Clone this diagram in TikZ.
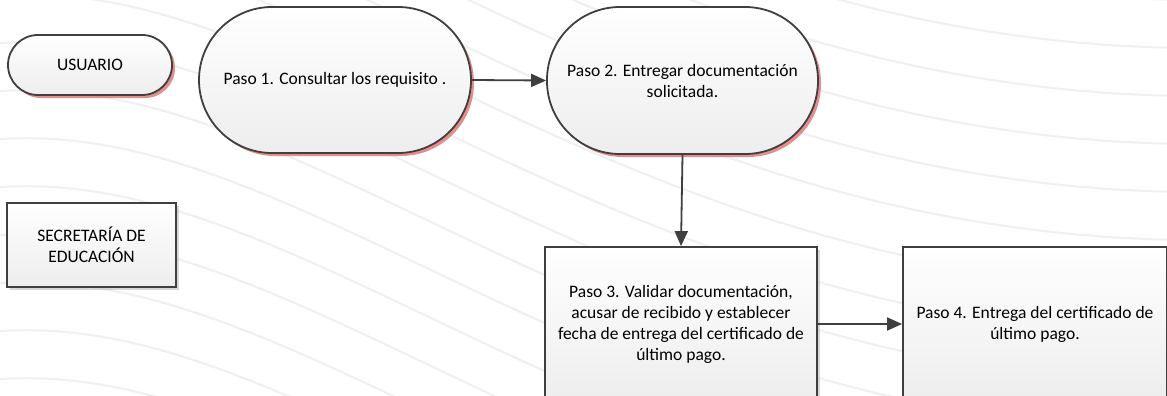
\documentclass[tikz,border=0pt]{standalone}
\usepackage{fontspec}
\setmainfont{Carlito}
\usetikzlibrary{arrows.meta,shadows}
\definecolor{edge}{HTML}{3F3F3F}
\definecolor{redsh}{HTML}{E07A7A}
\definecolor{swirlc}{HTML}{F0F0F0}
\tikzset{
  base/.style={draw=edge, line width=1.8pt, top color=white, bottom color=gray!14,
    align=center, inner sep=0pt, font=\fontsize{17.5}{21}\selectfont},
  pill/.style={base, rounded corners=#1,
    drop shadow={shadow xshift=3pt, shadow yshift=-3pt, fill=redsh, opacity=0.85}},
  box/.style={base,
    drop shadow={shadow xshift=3pt, shadow yshift=-3pt, fill=gray!60, opacity=0.5}},
  conn/.style={draw=edge, line width=1.8pt, -{Triangle[length=15pt,width=13pt]}},
  swirl/.style={draw=swirlc, line width=2pt}
}
\begin{document}
\begin{tikzpicture}[x=1pt,y=-1pt]
\useasboundingbox (0,0) rectangle (1167,396);
\clip (0,0) rectangle (1167,396);
\fill[white] (0,0) rectangle (1167,396);
% background swirls
\foreach \c in {-340,-292,...,430}{
  \draw[swirl] (-10,\c) .. controls (300,\c-30) and (600,\c+330) .. (1180,\c+340);
}
% nodes
\node[pill=30pt, minimum width=164pt, minimum height=60pt] (usuario) at (90,65) {USUARIO};
\node[box, minimum width=169pt, minimum height=84pt] (secre) at (91.5,245) {SECRETARÍA DE\\EDUCACIÓN};
\node[pill=73pt, minimum width=272pt, minimum height=146pt] (p1) at (335,80) {Paso 1. Consultar los requisito .};
\node[pill=73pt, minimum width=271pt, minimum height=147pt] (p2) at (682.5,80.5) {Paso 2. Entregar documentación\\solicitada.};
\node[box, minimum width=272pt, minimum height=154pt] (p3) at (681,324) {Paso 3. Validar documentación,\\acusar de recibido y establecer\\fecha de entrega del certificado de\\último pago.};
\node[box, minimum width=264pt, minimum height=154pt] (p4) at (1035,324) {Paso 4. Entrega del certificado de\\último pago.};
% connectors
\draw[conn] (p1.east) -- (p2.west);
\draw[conn] (p2.south) -- (p3.north);
\draw[conn] (p3.east) -- (p4.west);
\end{tikzpicture}
\end{document}
